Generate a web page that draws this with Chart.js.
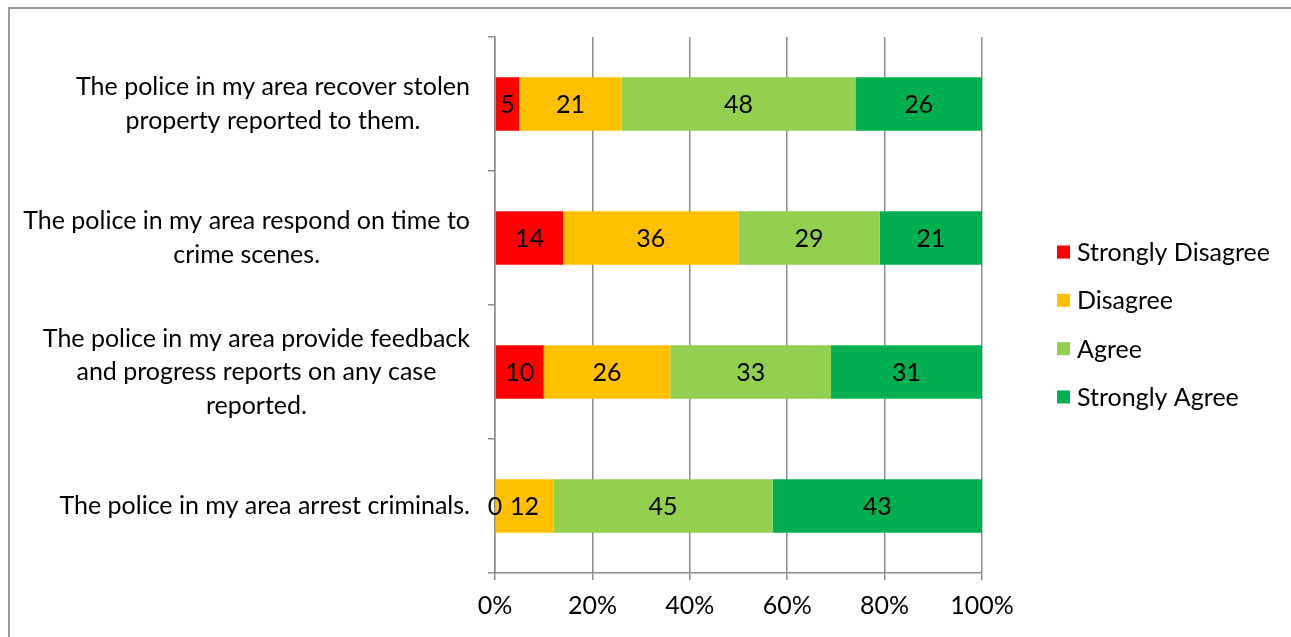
<!DOCTYPE html>
<html>
<head>
<meta charset="utf-8">
<script src="https://cdn.jsdelivr.net/npm/chart.js@4"></script>
<style>
  body { margin: 0; background: #fff; }
  #wrap { position: relative; width: 1291px; height: 637px; }
  #frame { position: absolute; left: 8px; top: 7px; right: 0; bottom: 0;
           border-top: 2px solid #9a9a9a; border-left: 2px solid #9a9a9a; pointer-events: none; }
</style>
</head>
<body>
<div id="wrap">
  <canvas id="chart" width="1291" height="637"></canvas>
  <div id="frame"></div>
</div>
<script>
// categories (wrapped as in the original)
const categories = [
  ["The police in my area recover stolen", "property reported to them."],
  ["The police in my area respond on time to", "crime scenes."],
  ["The police in my area provide feedback", "and progress reports on any case", "reported."],
  ["The police in my area arrest criminals."]
];
const seriesNames = ["Strongly Disagree", "Disagree", "Agree", "Strongly Agree"];
const strongly_disagree = [5, 14, 10, 0];
const disagree = [21, 36, 26, 12];
const agree = [48, 29, 33, 45];
const strongly_agree = [26, 21, 31, 43];
const seriesColors = ["#FF0000", "#FFC000", "#92D050", "#00B050"];
const xTicks = [0, 20, 40, 60, 80, 100];

const FONT = "Lato, 'Liberation Sans', sans-serif";
const FSIZE = 25;

// labels for the categories, lines centered together, block right-aligned near the axis
const pluginCategorias = {
  id: "categorias",
  afterDraw: (chart) => {
    const ctx = chart.ctx;
    const yScale = chart.scales.y;
    const right = chart.chartArea.left - 25;
    ctx.save();
    ctx.font = FSIZE + "px " + FONT;
    ctx.fillStyle = "#000";
    ctx.textAlign = "center";
    ctx.textBaseline = "middle";
    const lh = 33.5;
    categories.forEach((lines, i) => {
      const yc = yScale.getPixelForValue(i);
      const w = Math.max(...lines.map((l) => ctx.measureText(l).width));
      const xc = right - w / 2;
      lines.forEach((l, k) => {
        ctx.fillText(l, xc, yc + (k - (lines.length - 1) / 2) * lh);
      });
    });
    ctx.restore();
  },
};

// value labels in the middle of each segment
const pluginValores = {
  id: "valores",
  afterDatasetsDraw: (chart) => {
    const ctx = chart.ctx;
    ctx.save();
    ctx.font = FSIZE + "px " + FONT;
    ctx.fillStyle = "#000";
    ctx.textAlign = "center";
    ctx.textBaseline = "middle";
    chart.data.datasets.forEach((ds, d) => {
      const meta = chart.getDatasetMeta(d);
      meta.data.forEach((bar, i) => {
        const p = bar.getCenterPoint();
        ctx.fillText(String(ds.data[i]), p.x, p.y + 1);
      });
    });
    ctx.restore();
  },
};

// legend to the right of the plot, like the Excel one
const pluginLeyenda = {
  id: "leyenda",
  afterDraw: (chart) => {
    const ctx = chart.ctx;
    const area = chart.chartArea;
    const x0 = area.right + 75;
    const paso = 48.3;
    const n = chart.data.datasets.length;
    const y0 = (area.top + area.bottom) / 2 + 19.5 - ((n - 1) / 2) * paso;
    ctx.save();
    ctx.font = FSIZE + "px " + FONT;
    ctx.textAlign = "left";
    ctx.textBaseline = "middle";
    chart.data.datasets.forEach((ds, k) => {
      const y = y0 + k * paso;
      ctx.fillStyle = ds.backgroundColor;
      ctx.fillRect(x0, y - 6.5, 13, 13);
      ctx.fillStyle = "#000";
      ctx.fillText(ds.label, x0 + 20, y + 1);
    });
    ctx.restore();
  },
};

const series = [strongly_disagree, disagree, agree, strongly_agree];

function dibujar() {
  const ctx = document.getElementById("chart").getContext("2d");
  new Chart(ctx, {
    type: "bar",
    data: {
      labels: categories.map((c) => c.join(" ")),
      datasets: series.map((vals, k) => ({
        label: seriesNames[k],
        data: vals,
        backgroundColor: seriesColors[k],
        borderWidth: 0,
        barPercentage: 0.4,
        categoryPercentage: 1,
      })),
    },
    options: {
      indexAxis: "y",
      responsive: false,
      animation: false,
      layout: { padding: { left: 488, top: 37, right: 309, bottom: 5 } },
      plugins: {
        legend: { display: false },
        tooltip: { enabled: false },
      },
      scales: {
        x: {
          stacked: true,
          min: 0,
          max: 100,
          afterBuildTicks: (axis) => {
            axis.ticks = xTicks.map((v) => ({ value: v }));
          },
          ticks: {
            color: "#000",
            padding: 11,
            font: { family: FONT, size: FSIZE },
            callback: (v) => v + "%",
          },
          grid: { color: "#8c8c8c", lineWidth: 1.5, tickLength: 7 },
          border: { color: "#8c8c8c", width: 1.5 },
        },
        y: {
          stacked: true,
          offset: true,
          ticks: { display: false },
          grid: { offset: true, drawOnChartArea: false, color: "#8c8c8c", lineWidth: 1.5, tickLength: 7 },
          border: { color: "#8c8c8c", width: 1.5 },
        },
      },
    },
    plugins: [pluginCategorias, pluginValores, pluginLeyenda],
  });
}

document.fonts.load(FSIZE + "px Lato").then(dibujar, dibujar);
</script>
</body>
</html>
